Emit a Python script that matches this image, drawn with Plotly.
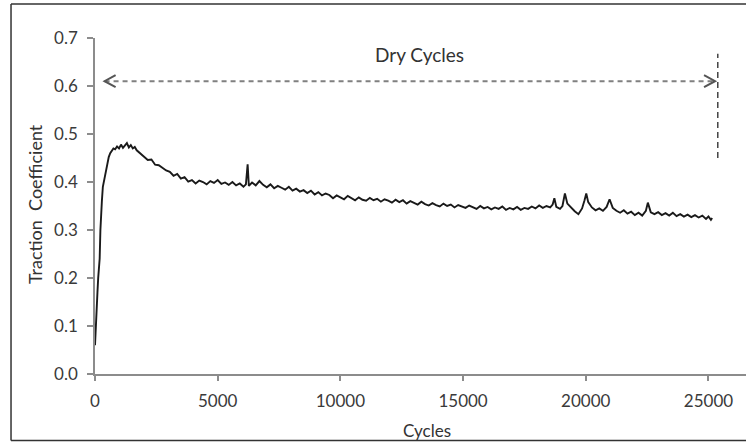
import plotly.graph_objects as go

# ---------------- data ----------------
cycles = [
    0, 20, 40, 60, 80, 100, 130, 160, 190, 220,
    250, 280, 320, 360, 400, 450, 500, 560, 620, 680,
    750, 820, 900, 980, 1060, 1140, 1220, 1300, 1380, 1460,
    1540, 1620, 1700, 1800, 1900, 2000, 2150, 2300, 2450, 2600,
    2750, 2900, 3050, 3200, 3350, 3500, 3650, 3800, 3950, 4100,
    4250, 4400, 4550, 4700, 4850, 5000, 5150, 5300, 5450, 5600,
    5750, 5900, 6050, 6150, 6220, 6270, 6400, 6550, 6700, 6850,
    7000, 7150, 7300, 7450, 7600, 7750, 7900, 8050, 8200, 8350,
    8500, 8650, 8800, 8950, 9100, 9250, 9400, 9550, 9700, 9850,
    10000, 10150, 10300, 10450, 10600, 10750, 10900, 11050, 11200, 11350,
    11500, 11650, 11800, 11950, 12100, 12250, 12400, 12550, 12700, 12850,
    13000, 13150, 13300, 13450, 13600, 13750, 13900, 14050, 14200, 14350,
    14500, 14650, 14800, 14950, 15100, 15250, 15400, 15550, 15700, 15850,
    16000, 16150, 16300, 16450, 16600, 16750, 16900, 17050, 17200, 17350,
    17500, 17650, 17800, 17950, 18100, 18250, 18400, 18550, 18650, 18720,
    18800, 18950, 19050, 19150, 19250, 19400, 19550, 19700, 19850, 19950,
    20020, 20100, 20250, 20400, 20550, 20700, 20850, 20970, 21100, 21250,
    21400, 21550, 21700, 21850, 22000, 22150, 22300, 22450, 22530, 22650,
    22800, 22950, 23100, 23250, 23400, 23550, 23700, 23850, 24000, 24150,
    24300, 24450, 24600, 24750, 24900, 25000, 25100, 25150,
]

traction = [
    0.060, 0.090, 0.120, 0.140, 0.160, 0.170, 0.200, 0.220, 0.240, 0.300,
    0.345, 0.360, 0.390, 0.400, 0.415, 0.430, 0.440, 0.452, 0.460, 0.465,
    0.470, 0.468, 0.474, 0.470, 0.478, 0.471, 0.476, 0.481, 0.472, 0.477,
    0.470, 0.473, 0.466, 0.462, 0.458, 0.452, 0.446, 0.447, 0.436, 0.435,
    0.429, 0.424, 0.421, 0.413, 0.417, 0.407, 0.410, 0.401, 0.404, 0.397,
    0.403, 0.400, 0.395, 0.402, 0.398, 0.404, 0.396, 0.399, 0.394, 0.400,
    0.393, 0.397, 0.390, 0.395, 0.437, 0.392, 0.399, 0.393, 0.402, 0.394,
    0.389, 0.395, 0.387, 0.392, 0.388, 0.384, 0.390, 0.382, 0.386, 0.380,
    0.383, 0.377, 0.382, 0.374, 0.379, 0.372, 0.376, 0.373, 0.366, 0.372,
    0.368, 0.364, 0.371, 0.366, 0.362, 0.368, 0.363, 0.361, 0.367, 0.362,
    0.365, 0.359, 0.364, 0.361, 0.357, 0.363, 0.358, 0.362, 0.355, 0.360,
    0.357, 0.353, 0.359, 0.354, 0.351, 0.356, 0.352, 0.349, 0.355, 0.350,
    0.353, 0.347, 0.352, 0.349, 0.346, 0.351, 0.347, 0.344, 0.350, 0.345,
    0.348, 0.343, 0.347, 0.344, 0.349, 0.342, 0.346, 0.343, 0.348, 0.342,
    0.346, 0.344, 0.349, 0.345, 0.351, 0.346, 0.350, 0.347, 0.353, 0.366,
    0.348, 0.344, 0.350, 0.376, 0.355, 0.346, 0.339, 0.333, 0.345, 0.362,
    0.376, 0.358, 0.347, 0.341, 0.345, 0.340, 0.348, 0.364, 0.346, 0.340,
    0.336, 0.341, 0.334, 0.338, 0.331, 0.336, 0.330, 0.340, 0.357, 0.337,
    0.333, 0.337, 0.331, 0.335, 0.330, 0.336, 0.329, 0.333, 0.328, 0.332,
    0.327, 0.331, 0.326, 0.330, 0.323, 0.328, 0.321, 0.325,
]
assert len(cycles) == len(traction)

x_ticks = [0, 5000, 10000, 15000, 20000, 25000]
x_tick_labels = ["0", "5000", "10000", "15000", "20000", "25000"]
y_ticks = [0.0, 0.1, 0.2, 0.3, 0.4, 0.5, 0.6, 0.7]
y_tick_labels = ["0.0", "0.1", "0.2", "0.3", "0.4", "0.5", "0.6", "0.7"]

# annotation geometry (data units)
ARROW_Y = 0.61
ARROW_X0 = 390
ARROW_X1 = 25270
HEAD_DX = 450
HEAD_DY = 0.0125
VLINE_X = 25380
VLINE_Y0 = 0.45
VLINE_Y1 = 0.667
LABEL_X = 13220
LABEL_Y = 0.665

# outer frame edges (paper units; right side runs past the picture edge)
FRAME_L, FRAME_R, FRAME_B, FRAME_T = -0.129, 1.3, -0.198, 1.101

FONT = "Lato, 'Open Sans', sans-serif"
TXT = "#3a3a3a"
AX = "#8c8c8c"
FRAME_LINE = dict(color="#333333", width=1.5)

fig = go.Figure()
fig.add_trace(go.Scatter(x=cycles, y=traction, mode="lines",
                         line=dict(color="#1a1a1a", width=1.9), showlegend=False,
                         hoverinfo="skip"))

shapes = [
    # outer frame: top, left, bottom
    dict(type="line", xref="paper", yref="paper", x0=FRAME_L, x1=FRAME_R, y0=FRAME_T, y1=FRAME_T,
         line=FRAME_LINE),
    dict(type="line", xref="paper", yref="paper", x0=FRAME_L, x1=FRAME_L, y0=FRAME_B, y1=FRAME_T,
         line=FRAME_LINE),
    dict(type="line", xref="paper", yref="paper", x0=FRAME_L, x1=FRAME_R, y0=FRAME_B, y1=FRAME_B,
         line=FRAME_LINE),
    # dashed double arrow
    dict(type="line", xref="x", yref="y", x0=ARROW_X0, x1=ARROW_X1, y0=ARROW_Y, y1=ARROW_Y,
         line=dict(color="#808080", width=2, dash="5px,4px")),
    dict(type="path", xref="x", yref="y",
         path=f"M {ARROW_X0 + HEAD_DX},{ARROW_Y + HEAD_DY} L {ARROW_X0},{ARROW_Y} L {ARROW_X0 + HEAD_DX},{ARROW_Y - HEAD_DY}",
         line=dict(color="#555555", width=2)),
    dict(type="path", xref="x", yref="y",
         path=f"M {ARROW_X1 - HEAD_DX},{ARROW_Y + HEAD_DY} L {ARROW_X1},{ARROW_Y} L {ARROW_X1 - HEAD_DX},{ARROW_Y - HEAD_DY}",
         line=dict(color="#555555", width=2)),
    # vertical dashed end marker
    dict(type="line", xref="x", yref="y", x0=VLINE_X, x1=VLINE_X, y0=VLINE_Y0, y1=VLINE_Y1,
         line=dict(color="#444444", width=1.5, dash="6px,4px")),
]

annotations = [
    dict(text="Dry Cycles", x=LABEL_X, y=LABEL_Y, xref="x", yref="y", showarrow=False,
         font=dict(family=FONT, size=19, color="#333333")),
    dict(text="Cycles", x=0.51, y=-0.167, xref="paper", yref="paper", showarrow=False,
         font=dict(family=FONT, size=17, color="#333333"), xanchor="center", yanchor="middle"),
    dict(text="Traction  Coefficient", x=-0.092, y=0.506, xref="paper", yref="paper",
         showarrow=False, textangle=-90,
         font=dict(family=FONT, size=18, color="#333333"), xanchor="center", yanchor="middle"),
]

fig.update_layout(
    width=746, height=443,
    margin=dict(l=95, r=0, t=38, b=69),
    paper_bgcolor="white", plot_bgcolor="white",
    shapes=shapes, annotations=annotations,
    font=dict(family=FONT, size=17, color=TXT),
    xaxis=dict(range=[0, 26530], tickvals=x_ticks, ticktext=x_tick_labels,
               showgrid=False, zeroline=False, showline=True, linecolor=AX, linewidth=1.5,
               ticks="outside", ticklen=5, tickcolor=AX, tickwidth=1.5,
               ticklabelstandoff=6,
               tickfont=dict(family=FONT, size=17, color=TXT)),
    yaxis=dict(range=[0, 0.7], tickvals=y_ticks, ticktext=y_tick_labels,
               showgrid=False, zeroline=False, showline=True, linecolor=AX, linewidth=1.5,
               ticks="outside", ticklen=6, tickcolor=AX, tickwidth=1.5,
               ticklabelstandoff=6,
               tickfont=dict(family=FONT, size=17, color=TXT)),
)

fig.write_html("out.html")
